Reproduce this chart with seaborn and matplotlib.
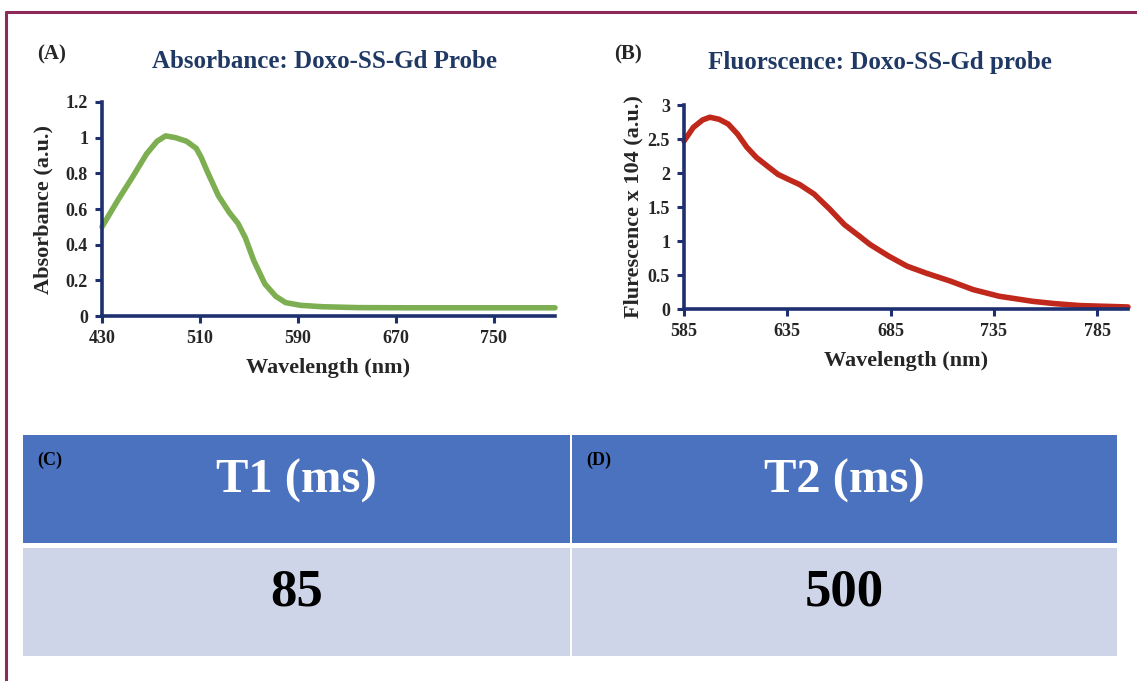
import matplotlib
matplotlib.use('Agg')
import matplotlib.pyplot as plt
from matplotlib.patches import Rectangle
import numpy as np
import pandas as pd
import seaborn as sns

# absorbance spectrum (panel A)
abs_wavelength = [430, 443, 455, 466.5, 475, 482, 490, 499, 507, 511, 516, 525, 534,
                  541, 547, 554, 563, 572, 580, 592, 610, 639, 680, 740, 800]
abs_values = [0.50, 0.65, 0.78, 0.91, 0.98, 1.01, 1.00, 0.98, 0.94, 0.89, 0.81, 0.675, 0.58,
              0.52, 0.44, 0.31, 0.18, 0.11, 0.075, 0.06, 0.052, 0.047, 0.046, 0.046, 0.046]

# fluorescence spectrum (panel B)
fl_wavelength = [585, 589.5, 594, 597.5, 602, 606.4, 611, 615.4, 620, 625, 630.5, 636, 641,
                 648, 655.5, 662.7, 670, 675, 684, 693, 702, 714, 725, 737.7, 753.8,
                 764.5, 777, 800]
fl_values = [2.47, 2.67, 2.78, 2.82, 2.79, 2.72, 2.57, 2.38, 2.23, 2.11, 1.98, 1.90, 1.83,
             1.69, 1.47, 1.24, 1.07, 0.95, 0.78, 0.63, 0.53, 0.41, 0.285, 0.187, 0.113,
             0.079, 0.05, 0.03]

# relaxation times (panels C, D)
table_labels = ['(C)', '(D)']
table_headers = ['T1 (ms)', 'T2 (ms)']
table_values = [85, 500]

sns.set_style('white')
plt.rcParams['font.family'] = ['Liberation Serif', 'DejaVu Serif']
plt.rcParams['font.weight'] = 'bold'

navy = '#1F3070'
title_col = '#1F3864'

fig = plt.figure(figsize=(11.37, 6.81), dpi=100)

# frame lines
fig.add_artist(plt.Line2D([6 / 1137, 6 / 1137], [0, 1 - 12 / 681], color='#8E2A58', lw=2.2,
                          transform=fig.transFigure))
fig.add_artist(plt.Line2D([6 / 1137, 1], [1 - 12 / 681, 1 - 12 / 681], color='#8E2A58', lw=2.2,
                          transform=fig.transFigure))


def style_axes(ax):
    for s in ['top', 'right']:
        ax.spines[s].set_visible(False)
    for s in ['left', 'bottom']:
        ax.spines[s].set_color(navy)
        ax.spines[s].set_linewidth(2.6)
    ax.tick_params(axis='both', direction='out', length=5, width=2.2, color=navy,
                   labelsize=13, pad=5, bottom=True, left=True)
    for lab in ax.get_xticklabels() + ax.get_yticklabels():
        lab.set_fontweight('bold')


# panel A
axA = fig.add_axes([102 / 1137, 1 - 316 / 681, 453 / 1137, 214 / 681])
dfA = pd.DataFrame({'wavelength': abs_wavelength, 'absorbance': abs_values})
sns.lineplot(data=dfA, x='wavelength', y='absorbance', ax=axA, color='#7DAF52', lw=4,
             clip_on=False)
axA.set_xlim(430, 800)
axA.set_ylim(0, 1.2)
axA.set_xticks([430, 510, 590, 670, 750])
axA.set_yticks([0, 0.2, 0.4, 0.6, 0.8, 1.0, 1.2])
axA.set_yticklabels(['0', '0.2', '0.4', '0.6', '0.8', '1', '1.2'])
axA.set_xlabel('Wavelength (nm)', fontsize=16, fontweight='bold', labelpad=8)
axA.set_ylabel('Absorbance (a.u.)', fontsize=16, fontweight='bold', labelpad=9)
style_axes(axA)
fig.text(325 / 1137, 1 - 62 / 681, 'Absorbance: Doxo-SS-Gd Probe', color=title_col,
         fontsize=18, fontweight='bold', ha='center', va='center')
fig.text(52 / 1137, 1 - 54 / 681, '(A)', fontsize=15, fontweight='bold', ha='center', va='center')

# panel B
axB = fig.add_axes([684 / 1137, 1 - 309 / 681, 444 / 1137, 204 / 681])
dfB = pd.DataFrame({'wavelength': fl_wavelength, 'fluorescence': fl_values})
sns.lineplot(data=dfB, x='wavelength', y='fluorescence', ax=axB, color='#C0281C', lw=4,
             clip_on=False)
axB.set_xlim(585, 800)
axB.set_ylim(0, 3)
axB.set_xticks([585, 635, 685, 735, 785])
axB.set_yticks([0, 0.5, 1, 1.5, 2, 2.5, 3])
axB.set_yticklabels(['0', '0.5', '1', '1.5', '2', '2.5', '3'])
axB.set_xlabel('Wavelength (nm)', fontsize=16, fontweight='bold', labelpad=8)
axB.set_ylabel('Flurescence x 104 (a.u.)', fontsize=16, fontweight='bold', labelpad=3)
style_axes(axB)
fig.text(880 / 1137, 1 - 62 / 681, 'Fluorscence: Doxo-SS-Gd probe', color=title_col,
         fontsize=18, fontweight='bold', ha='center', va='center')
fig.text(628 / 1137, 1 - 54 / 681, '(B)', fontsize=15, fontweight='bold', ha='center', va='center')

# table (C, D)
W, H = 1137, 681
cols = [(23, 570), (572, 1117)]
for i, (x0, x1) in enumerate(cols):
    fig.add_artist(Rectangle((x0 / W, 1 - 543 / H), (x1 - x0) / W, 108 / H,
                             transform=fig.transFigure, facecolor='#4A72BE', edgecolor='none'))
    fig.add_artist(Rectangle((x0 / W, 1 - 656 / H), (x1 - x0) / W, 108 / H,
                             transform=fig.transFigure, facecolor='#CFD5E8', edgecolor='none'))
    cx = (x0 + x1) / 2 / W
    fig.text(cx, 1 - 481 / H, table_headers[i], color='white', fontsize=35, fontweight='bold',
             ha='center', va='center')
    fig.text(cx, 1 - 592 / H, str(table_values[i]), color='black', fontsize=38, fontweight='bold',
             ha='center', va='center')
    fig.text((x0 + 27) / W, 1 - 460 / H, table_labels[i], color='black', fontsize=13,
             fontweight='bold', ha='center', va='center')

fig.savefig('out.png', dpi=100)
